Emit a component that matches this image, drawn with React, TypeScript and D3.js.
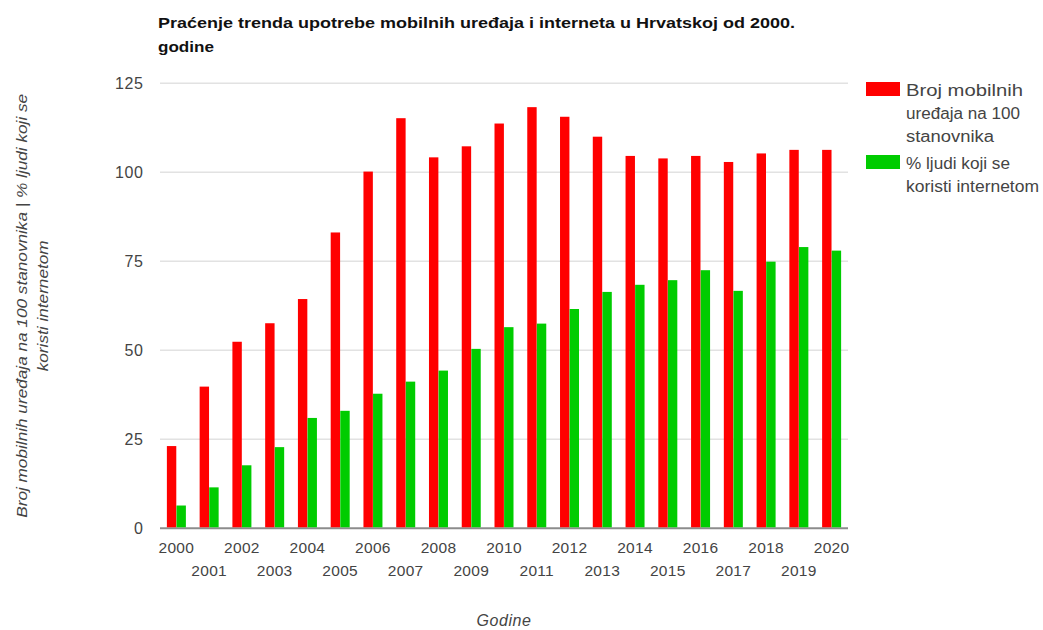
import React from "react";
import * as d3 from "d3";

const years = ["2000","2001","2002","2003","2004","2005","2006","2007","2008","2009","2010","2011","2012","2013","2014","2015","2016","2017","2018","2019","2020"];
const mobileDevices = [23.1, 39.8, 52.4, 57.6, 64.4, 83.1, 100.2, 115.2, 104.2, 107.3, 113.7, 118.3, 115.6, 110.0, 104.6, 103.9, 104.6, 102.9, 105.3, 106.3, 106.3];
const internetUsers = [6.4, 11.5, 17.7, 22.8, 31.0, 33.0, 37.8, 41.2, 44.3, 50.4, 56.5, 57.5, 61.6, 66.4, 68.4, 69.7, 72.5, 66.7, 74.9, 79.0, 78.0];
const yTicks = [0, 25, 50, 75, 100, 125];
const seriesNames = ["Broj mobilnih uređaja na 100 stanovnika", "% ljudi koji se koristi internetom"];
const legendLines = [["Broj mobilnih", "uređaja na 100", "stanovnika"], ["% ljudi koji se", "koristi internetom"]];
const colors = ["#ff0000", "#00cc00"];
const titleLines = ["Praćenje trenda upotrebe mobilnih uređaja i interneta u Hrvatskoj od 2000.", "godine"];
const yTitleLines = ["Broj mobilnih uređaja na 100 stanovnika | % ljudi koji se", "koristi internetom"];
const xTitle = "Godine";

const titleWidths = [637, 56];
const yTitleWidths = [424, 131];
const legendWidths = [[117, 114, 88], [104, 133]];

const W = 1043, H = 630;
const left = 160, right = 848, top = 83.3, bottom = 528.3;
const FONT = "'Liberation Sans', Arial, sans-serif";

export default function App() {
  const x = d3.scaleBand<string>().domain(years).range([left, right]).paddingInner(0.42).paddingOuter(0.21);
  const sub = d3.scaleBand<string>().domain(["m", "i"]).range([0, x.bandwidth()]).paddingInner(0.02);
  const y = d3.scaleLinear().domain([0, 125]).range([bottom, top]);
  const series = [mobileDevices, internetUsers];
  const keys = ["m", "i"];

  return (
    <svg width={W} height={H} style={{ position: "absolute", left: 0, top: 0, background: "#fff" }} fontFamily={FONT}>
      {/* title */}
      {titleLines.map((t, i) => (
        <text key={t} x={158} y={28 + i * 23.5} fontSize={15} fontWeight="bold" fill="#111"
          textLength={titleWidths[i]} lengthAdjust="spacingAndGlyphs">{t}</text>
      ))}
      {/* grid */}
      {yTicks.map((v) => (
        <g key={v}>
          <line x1={left} x2={right} y1={y(v)} y2={y(v)} stroke={v === 0 ? "#8c8c8c" : "#e2e2e2"} strokeWidth={v === 0 ? 2 : 1.5} />
          <text x={143.5} y={y(v)} dy="0.36em" textAnchor="end" fontSize={16} letterSpacing={0.6} fill="#444">{v}</text>
        </g>
      ))}
      {/* bars */}
      {series.map((vals, si) => (
        <g key={si} fill={colors[si]}>
          {vals.map((v, i) => (
            <rect key={years[i]} x={(x(years[i]) ?? 0) + (sub(keys[si]) ?? 0)} width={sub.bandwidth()} y={y(v)} height={y(0) - y(v) - 1} />
          ))}
        </g>
      ))}
      {/* x labels */}
      {years.map((yr, i) => (
        <text key={yr} x={(x(yr) ?? 0) + x.bandwidth() / 2} y={i % 2 === 0 ? 553 : 575.5} textAnchor="middle" fontSize={15.5} letterSpacing={0.3} fill="#444">{yr}</text>
      ))}
      {/* axis titles */}
      <text x={(left + right) / 2} y={626} textAnchor="middle" fontSize={16} letterSpacing={0.6} fontStyle="italic" fill="#444">{xTitle}</text>
      {yTitleLines.map((t, i) => (
        <text key={t} transform={`translate(${27 + i * 21},${(top + bottom) / 2}) rotate(-90)`} textAnchor="middle" fontSize={15} fontStyle="italic" fill="#444"
          textLength={yTitleWidths[i]} lengthAdjust="spacingAndGlyphs">{t}</text>
      ))}
      {/* legend */}
      {legendLines.map((lines, si) => {
        const y0 = si === 0 ? 96 : 169;
        return (
          <g key={si}>
            <title>{seriesNames[si]}</title>
            <rect x={866} y={y0 - 14} width={34} height={14} fill={colors[si]} />
            {lines.map((l, li) => (
              <text key={l} x={906} y={y0 + li * 23} fontSize={16} fill="#444"
                textLength={legendWidths[si][li]} lengthAdjust="spacingAndGlyphs">{l}</text>
            ))}
          </g>
        );
      })}
    </svg>
  );
}
